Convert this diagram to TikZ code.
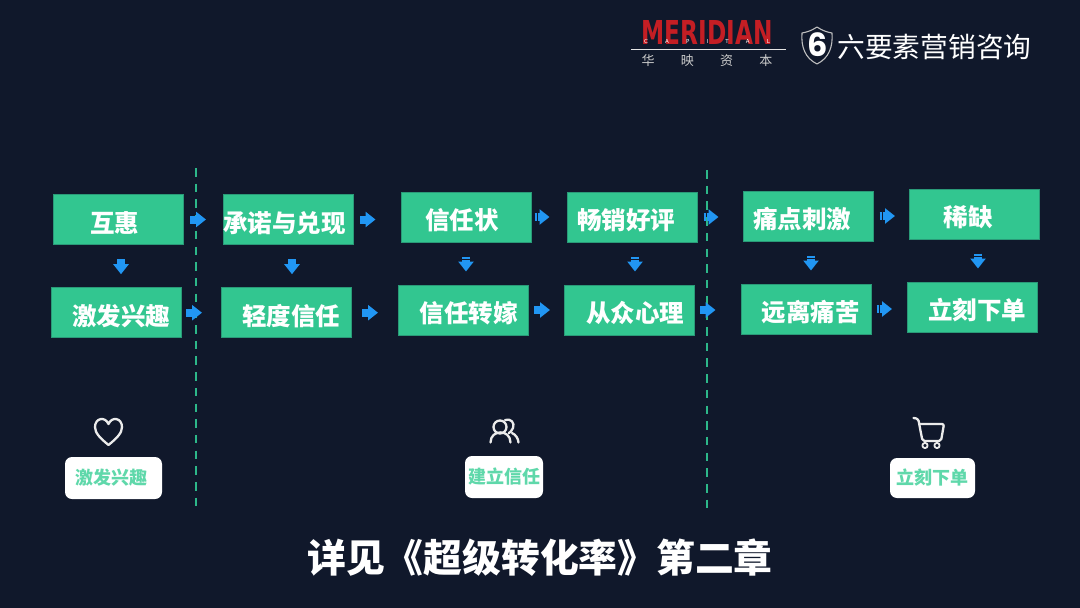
\documentclass[tikz,border=0pt]{standalone}
\usepackage{fontspec}
\setmainfont{Noto Sans CJK SC}
\newfontfamily\latinfont{DejaVu Sans}
\newfontfamily\sixfont{Poppins}
\usetikzlibrary{arrows.meta,calc}
\definecolor{bgdark}{HTML}{10182B}
\definecolor{boxgreen}{HTML}{32C690}
\definecolor{boxedge}{HTML}{2A9A78}
\definecolor{dashgreen}{HTML}{2DB88A}
\definecolor{softgreen}{HTML}{5FD8AA}
\definecolor{arrowblue}{HTML}{2196F3}
\definecolor{logored}{HTML}{C41E24}
\tikzset{
  greenbox/.style={draw=boxedge, fill=boxgreen, line width=0.8pt, minimum width=130.2pt, minimum height=50.2pt, inner sep=0pt},
  boxtext/.style={text=white, inner sep=0pt, font=\fontsize{24.5}{28}\selectfont\bfseries},
  whitebox/.style={fill=white, rounded corners=7pt, inner sep=0pt, text=softgreen, font=\fontsize{18}{22}\selectfont\bfseries},
  rightarrow/.style={arrowblue, line width=8pt, dash pattern=on 2.6pt off 0.4pt, -{Triangle[length=10pt,width=15pt]}},
  downarrow/.style={arrowblue, line width=8pt, dash pattern=on 2.6pt off 0.4pt, shorten <=14pt, shorten >=13pt, -{Triangle[length=10pt,width=15pt]}},
  divider/.style={dashgreen, line width=2.4pt, dash pattern=on 8.5pt off 7.2pt},
  iconline/.style={draw=white!92!black, line width=2.3pt, line cap=round, line join=round}
}
\begin{document}
\begin{tikzpicture}[x=1pt,y=-1pt]
  \fill[bgdark] (0,0) rectangle (1080,608);
  \useasboundingbox (0,0) rectangle (1080,608);
  % Logo
  \node[text=logored, inner sep=0pt] (meridian) at (707,32) {\resizebox{131pt}{24pt}{\latinfont\bfseries MERIDIAN}};
  \node[text=white, inner sep=0pt, font=\latinfont\fontsize{5.5}{6}\selectfont] (capital) at (707,41) {\makebox[126pt][s]{C\hfill A\hfill P\hfill I\hfill T\hfill A\hfill L}};
  \coordinate (ruleleft) at (631,49.5);
  \coordinate (ruleright) at (786,49.5);
  \draw[white!90!black, line width=0.8pt] (ruleleft) -- (ruleright);
  \node[text=white!80!black, inner sep=0pt, font=\fontsize{13}{14}\selectfont] (huaying) at (707,61) {\makebox[131pt][s]{华\hfill 映\hfill 资\hfill 本}};
  \draw[white!75!black, line width=1.1pt, line join=round] (817,27) .. controls (811,31) and (807,32) .. (802,33) .. controls (801,47) and (805,58) .. (817,64) .. controls (829,58) and (833,47) .. (832,33) .. controls (827,32) and (823,31) .. (817,27) -- cycle;
  \node[text=white, inner sep=0pt, font=\sixfont\fontsize{32}{32}\selectfont\bfseries] (six) at (818,45) {6};
  \node[text=white, inner sep=0pt, font=\fontsize{27.7}{30}\selectfont] (brand) at (934.5,47) {六要素营销咨询};
  % Dashed dividers
  \coordinate (divatop) at (196,168);
  \coordinate (divabot) at (196,508);
  \coordinate (divbtop) at (707,170);
  \coordinate (divbbot) at (707,510);
  \draw[divider] (divatop) -- (divabot);
  \draw[divider] (divbtop) -- (divbbot);
  % Green boxes, with the text set apart from the box centre
  \foreach \name/\bx/\by/\tx/\ty/\txt in {
      huhui/118.5/219.5/114.5/223/互惠,
      jifa/116.5/312.7/121/316/激发兴趣,
      chengnuo/288.5/219.5/284.5/223/承诺与兑现,
      qingdu/286.5/312.7/291/316/轻度信任,
      xinren/466/217/462/220/信任状,
      zhuanjia/463.5/310/468.5/313/信任转嫁,
      changxiao/632/217/626/220/畅销好评,
      congzhong/629.5/310/635/313/从众心理,
      tongdian/808/216/802/219/痛点刺激,
      yuanli/806/309/810.5/312/远离痛苦,
      xique/974.5/214/968/217/稀缺,
      xiadan/972.5/307/977/310/立刻下单}{
    \node[greenbox] (\name) at (\bx,\by) {};
    \node[boxtext] (\name-txt) at (\tx,\ty) {\txt};
  }
  % Blue arrows
  \foreach \a/\b/\s/\e in {
      huhui/chengnuo/6/17, chengnuo/xinren/6/25, xinren/changxiao/3/17,
      changxiao/tongdian/6/24, tongdian/xique/6/14,
      jifa/qingdu/4/19, qingdu/zhuanjia/10/20, zhuanjia/congzhong/5/14,
      congzhong/yuanli/5/25, yuanli/xiadan/5/15}{
    \draw[rightarrow, shorten <=\s pt, shorten >=\e pt] (\a.east) -- (\a.east -| \b.west);
  }
  \foreach \a/\b/\x in {huhui/jifa/121, chengnuo/qingdu/292, xinren/zhuanjia/466,
      changxiao/congzhong/635, tongdian/yuanli/811, xique/xiadan/978}{
    \draw[downarrow] (\a.south -| \x,0) -- (\b.north -| \x,0);
  }
  % Heart
  \draw[iconline] (108.5,445) .. controls (100,438) and (95,433) .. (95,427) .. controls (95,418) and (105,416) .. (108.5,424) .. controls (112,416) and (122,418) .. (122,427) .. controls (122,433) and (117,438) .. (108.5,445) -- cycle;
  % People
  \draw[iconline] (500,427) circle (6.5pt);
  \draw[iconline] (490.5,442.5) .. controls (490.5,429) and (510.5,429) .. (510.5,442.5);
  \draw[iconline] (505,420) .. controls (511,418) and (515,423) .. (513,428) .. controls (512,431) and (510,432) .. (509,433);
  \draw[iconline] (512,433) .. controls (516,435) and (518,438) .. (518.5,442.5);
  % Cart
  \draw[iconline, rounded corners=2pt] (913.5,418) .. controls (917,418) and (918.5,420) .. (919,423) -- (922.5,441) -- (941,441) -- (944,424) -- (919.5,424);
  \draw[iconline, line width=1.8pt] (925,445.5) circle (2.6pt);
  \draw[iconline, line width=1.8pt] (937,445.5) circle (2.6pt);
  % White labels
  \node[whitebox, minimum width=97pt, minimum height=42pt] (labela) at (113.5,478) {\hspace*{-5pt}\raisebox{-2pt}{激发兴趣}};
  \node[whitebox, minimum width=78pt, minimum height=42pt] (labelb) at (504,477) {\raisebox{-1pt}{建立信任}};
  \node[whitebox, minimum width=85pt, minimum height=40pt] (labelc) at (932.5,478) {\raisebox{-1pt}{立刻下单}};
  % Title
  \node[text=white, inner sep=0pt, font=\fontsize{38.8}{44}\selectfont\bfseries] (title) at (540,558) {详见《超级转化率》第二章};
\end{tikzpicture}
\end{document}
